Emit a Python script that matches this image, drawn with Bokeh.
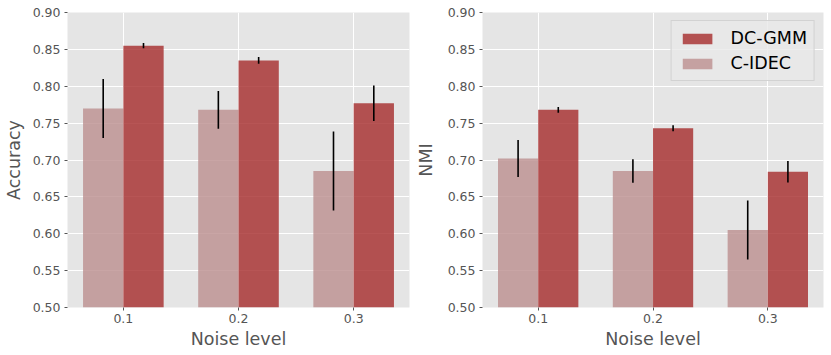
from bokeh.plotting import figure
from bokeh.layouts import row
from bokeh.models import ColumnDataSource, FixedTicker, Range1d, Legend, LegendItem, PrintfTickFormatter
from bokeh.transform import dodge
from bokeh.embed import file_html
from bokeh.resources import INLINE

# ---- data ----
noise_levels = ["0.1", "0.2", "0.3"]
series = ["DC-GMM", "C-IDEC"]

acc_dcgmm = [0.855, 0.835, 0.777]
acc_dcgmm_err = [0.0035, 0.0045, 0.024]
acc_cidec = [0.770, 0.768, 0.685]
acc_cidec_err = [0.040, 0.0255, 0.0535]

nmi_dcgmm = [0.768, 0.743, 0.684]
nmi_dcgmm_err = [0.004, 0.004, 0.0145]
nmi_cidec = [0.702, 0.685, 0.605]
nmi_cidec_err = [0.025, 0.016, 0.040]

y_ticks = [0.50, 0.55, 0.60, 0.65, 0.70, 0.75, 0.80, 0.85, 0.90]

COL_DC = "brown"
COL_CI = "rosybrown"
BG = "#E5E5E5"
TXT = "#555555"
FONT = "DejaVu Sans"


def make_panel(ylabel, dc, dc_err, ci, ci_err, width, border_left, border_right,
               ylabel_standoff=3, legend=False):
    xs = list(range(len(noise_levels)))
    src = ColumnDataSource(dict(
        x=xs,
        dc=dc, dc_lo=[v - e for v, e in zip(dc, dc_err)], dc_hi=[v + e for v, e in zip(dc, dc_err)],
        ci=ci, ci_lo=[v - e for v, e in zip(ci, ci_err)], ci_hi=[v + e for v, e in zip(ci, ci_err)],
    ))
    p = figure(width=width, height=355, output_backend="svg", toolbar_location=None,
               x_range=Range1d(-0.485, 2.485), y_range=Range1d(y_ticks[0], y_ticks[-1]),
               min_border_left=border_left, min_border_right=border_right,
               min_border_top=12, min_border_bottom=48)
    p.background_fill_color = BG
    p.outline_line_color = None
    p.border_fill_color = "white"

    r_ci = p.vbar(x=dodge("x", -0.175), top="ci", bottom=0, width=0.35, source=src,
                  fill_color=COL_CI, fill_alpha=0.8, line_color=None)
    r_dc = p.vbar(x=dodge("x", 0.175), top="dc", bottom=0, width=0.35, source=src,
                  fill_color=COL_DC, fill_alpha=0.8, line_color=None)
    p.segment(x0=dodge("x", -0.175), x1=dodge("x", -0.175), y0="ci_lo", y1="ci_hi",
              source=src, line_color="black", line_width=1.6)
    p.segment(x0=dodge("x", 0.175), x1=dodge("x", 0.175), y0="dc_lo", y1="dc_hi",
              source=src, line_color="black", line_width=1.6)

    for g in (p.xgrid, p.ygrid):
        g.grid_line_color = "white"
        g.grid_line_width = 1
    p.xaxis.ticker = FixedTicker(ticks=xs)
    p.xaxis.major_label_overrides = {i: lab for i, lab in enumerate(noise_levels)}
    p.yaxis.ticker = FixedTicker(ticks=y_ticks)
    p.yaxis.formatter = PrintfTickFormatter(format="%.2f")

    for ax in (p.xaxis, p.yaxis):
        ax.axis_line_color = None
        ax.major_tick_line_color = TXT
        ax.major_tick_out = 3
        ax.major_tick_in = 0
        ax.minor_tick_line_color = None
        ax.major_label_text_font = FONT
        ax.major_label_text_font_size = "12.5px"
        ax.major_label_text_color = TXT
        ax.axis_label_text_font = FONT
        ax.axis_label_text_font_size = "17.5px"
        ax.axis_label_text_font_style = "normal"
        ax.axis_label_text_color = TXT
        ax.major_label_standoff = 4
        ax.axis_label_standoff = 3
    p.xaxis.axis_label = "Noise level"
    p.yaxis.axis_label = ylabel
    p.yaxis.axis_label_standoff = ylabel_standoff
    p.xaxis.major_label_standoff = 3

    if legend:
        leg = Legend(items=[LegendItem(label=series[0], renderers=[r_dc]),
                            LegendItem(label=series[1], renderers=[r_ci])],
                     location="top_right")
        leg.margin = 8
        leg.padding = 7
        leg.spacing = 5
        leg.glyph_width = 37
        leg.glyph_height = 13
        leg.label_standoff = 15
        leg.label_text_font = FONT
        leg.label_text_font_size = "17.5px"
        leg.label_text_color = "black"
        leg.background_fill_color = "#E8E8E8"
        leg.background_fill_alpha = 0.8
        leg.border_line_color = "#CCCCCC"
        leg.border_line_alpha = 0.8
        p.add_layout(leg)
    return p


p1 = make_panel("Accuracy", acc_dcgmm, acc_dcgmm_err, acc_cidec, acc_cidec_err,
                width=412, border_left=65, border_right=3, ylabel_standoff=6)
p2 = make_panel("NMI", nmi_dcgmm, nmi_dcgmm_err, nmi_cidec, nmi_cidec_err,
                width=419, border_left=67, border_right=8, ylabel_standoff=9, legend=True)

layout = row(p1, p2)
open("out.html", "w").write(file_html(layout, INLINE))
